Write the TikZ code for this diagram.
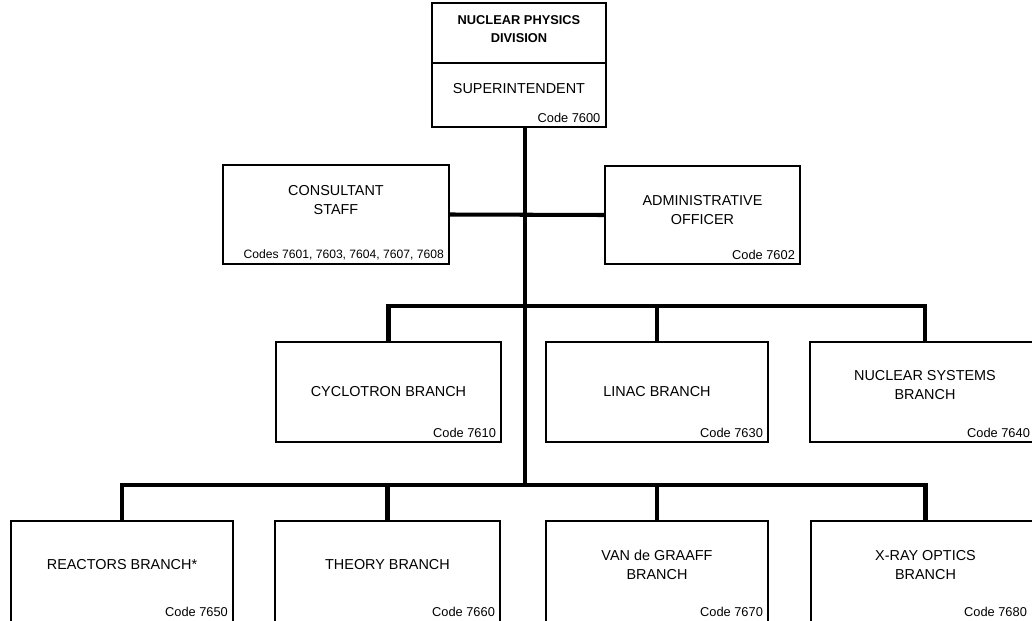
\documentclass[tikz,border=0pt]{standalone}
\usepackage{fontspec}
\setmainfont{Liberation Sans}
\usetikzlibrary{positioning}

\begin{document}
\begin{tikzpicture}[
  font=\fontsize{8.2}{11}\selectfont,
  unit/.style={draw, line width=0.6pt, minimum width=4.5cm, minimum height=2.0cm, inner sep=0pt},
  head/.style={draw, line width=0.6pt, minimum width=3.48cm, inner sep=0pt, outer sep=0pt},
  title/.style={align=center, inner sep=1pt},
  code/.style={anchor=south east, font=\fontsize{7.3}{8}\selectfont, inner xsep=3pt, inner ysep=2.5pt},
  link/.style={line width=2.3pt}
]
\useasboundingbox (0,0) rectangle (20.64,12.4);
\clip (0,0) rectangle (20.64,12.4);

% division head
\node[head, minimum height=1.2cm] (div) at (10.38,11.74) {};
\node[head, minimum height=1.28cm, below=0pt of div] (sup) {};
\node[title, font=\fontsize{7.3}{10}\selectfont\bfseries] (divname) at ([yshift=0.08cm]div.center) {NUCLEAR PHYSICS\\DIVISION};
\node[title] (supname) at ([yshift=0.12cm]sup.center) {SUPERINTENDENT};
\node[code] (c7600) at (sup.south east) {Code 7600};

% staff
\node[unit, minimum width=4.52cm, minimum height=1.98cm] (cons) at (6.72,8.11) {};
\node[title] (consname) at ([yshift=0.29cm]cons.center) {CONSULTANT\\STAFF};
\node[code, font=\fontsize{6.9}{8}\selectfont] (c7601) at (cons.south east) {Codes 7601, 7603, 7604, 7607, 7608};
\node[unit, minimum width=3.9cm, minimum height=1.96cm] (adm) at (14.05,8.10) {};
\node[title] (admname) at ([yshift=0.1cm]adm.center) {ADMINISTRATIVE\\OFFICER};
\node[code] (c7602) at (adm.south east) {Code 7602};

% branches, upper row
\node[unit] (cyc) at (7.77,4.56) {};
\node[title] (cycname) at (cyc.center) {CYCLOTRON BRANCH};
\node[code] (c7610) at (cyc.south east) {Code 7610};
\node[unit, minimum width=4.44cm] (lin) at (13.14,4.56) {};
\node[title] (linname) at (lin.center) {LINAC BRANCH};
\node[code] (c7630) at (lin.south east) {Code 7630};
\node[unit, minimum width=4.6cm] (nuc) at (18.50,4.56) {};
\node[title] (nucname) at ([yshift=0.14cm]nuc.center) {NUCLEAR SYSTEMS\\BRANCH};
\node[code] (c7640) at ([xshift=-0.1cm]nuc.south east) {Code 7640};

% branches, lower row
\node[unit, minimum width=4.44cm, minimum height=2.08cm] (rea) at (2.44,0.94) {};
\node[title] (reaname) at ([yshift=0.16cm]rea.center) {REACTORS BRANCH*};
\node[code] (c7650) at ([yshift=0.08cm]rea.south east) {Code 7650};
\node[unit, minimum height=2.08cm] (the) at (7.75,0.94) {};
\node[title] (thename) at ([yshift=0.16cm]the.center) {THEORY BRANCH};
\node[code] (c7660) at ([yshift=0.08cm]the.south east) {Code 7660};
\node[unit, minimum width=4.44cm, minimum height=2.08cm] (vdg) at (13.14,0.94) {};
\node[title] (vdgname) at ([yshift=0.16cm]vdg.center) {VAN de GRAAFF\\BRANCH};
\node[code] (c7670) at ([yshift=0.08cm]vdg.south east) {Code 7670};
\node[unit, minimum width=4.58cm, minimum height=2.08cm] (xra) at (18.51,0.94) {};
\node[title] (xraname) at ([yshift=0.16cm]xra.center) {X-RAY OPTICS\\BRANCH};
\node[code] (c7680) at ([xshift=-0.16cm,yshift=0.08cm]xra.south east) {Code 7680};

% lines
\coordinate (trunk) at (10.50,9.86);
\coordinate (midjoin) at (10.50,6.28);
\coordinate (botjoin) at (10.50,2.70);
\draw[link] (trunk) -- (botjoin);
\draw[link] (cons.east) -- (adm.west);
\draw[link] (cyc.north) |- (midjoin) -| (nuc.north);
\draw[link] (midjoin) -| (lin.north);
\draw[link] (rea.north) |- (botjoin) -| (xra.north);
\draw[link] (botjoin) -| (the.north);
\draw[link] (botjoin) -| (vdg.north);
\end{tikzpicture}
\end{document}
